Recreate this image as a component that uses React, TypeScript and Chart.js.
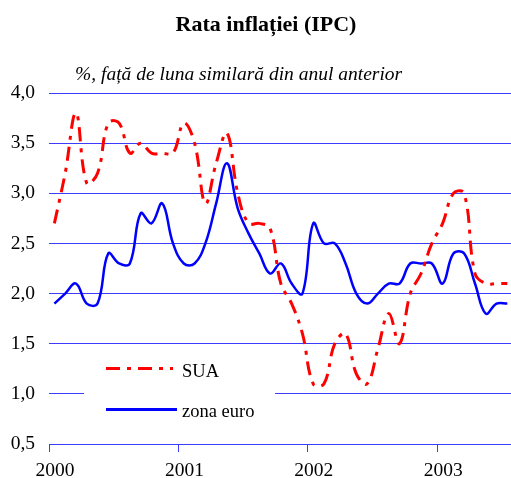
import React, { useEffect, useRef } from "react";
import { Chart, registerables } from "chart.js";

Chart.register(...registerables);

const TITLE = "Rata inflației (IPC)";
const SUBTITLE = "%, față de luna similară din anul anterior";
const START_YEAR = 2000;
const YEAR_TICKS = [2000, 2001, 2002, 2003];
const Y_TICKS = [0.5, 1.0, 1.5, 2.0, 2.5, 3.0, 3.5, 4.0];

// monthly values, Jan 2000 - Jul 2003
const SUA = [
  2.7, 3.2, 3.8, 3.1, 3.2, 3.7, 3.7, 3.4, 3.5, 3.4, 3.4, 3.4,
  3.7, 3.5, 2.9, 3.3, 3.6, 3.0, 2.7, 2.7, 2.65, 2.1, 1.9, 1.6,
  1.1, 1.1, 1.5, 1.6, 1.2, 1.1, 1.45, 1.8, 1.5, 2.0, 2.2, 2.5,
  2.7, 3.0, 3.0, 2.2, 2.1, 2.1, 2.1,
];
const ZONA_EURO = [
  1.9, 2.0, 2.1, 1.9, 1.9, 2.4, 2.3, 2.3, 2.8, 2.7, 2.9, 2.5,
  2.3, 2.3, 2.5, 2.9, 3.3, 2.85, 2.6, 2.4, 2.2, 2.3, 2.1, 2.0,
  2.7, 2.5, 2.5, 2.3, 2.0, 1.9, 2.0, 2.1, 2.1, 2.3, 2.3, 2.3,
  2.1, 2.4, 2.4, 2.1, 1.8, 1.9, 1.9,
];
const SERIES_LABELS = ["SUA", "zona euro"];

const FONT = "'Liberation Serif', 'Times New Roman', serif";
const GRID_BLUE = "#3c3cff";
const RED = "#ff0000";
const BLUE = "#0000ff";
const RED_DASH = [14, 7, 4, 7];

const toPoints = (vals: number[]) =>
  vals.map((v, i) => ({ x: START_YEAR + (i + 0.5) / 12, y: v }));

const overlay = {
  id: "overlay",
  beforeDatasetsDraw(chart: any) {
    const ctx = chart.ctx;
    ctx.save();
    ctx.fillStyle = "#ffffff";
    ctx.fillRect(84, 352, 191, 72);
    ctx.restore();
  },
  afterDraw(chart: any) {
    const ctx = chart.ctx;
    ctx.save();
    ctx.fillStyle = "#000";
    ctx.textBaseline = "alphabetic";
    ctx.textAlign = "center";
    ctx.font = `bold 22px ${FONT}`;
    ctx.fillText(TITLE, 266, 31);
    ctx.textAlign = "left";
    ctx.font = `italic 19.5px ${FONT}`;
    ctx.fillText(SUBTITLE, 75, 80);

    // legend
    const items = [
      { y: 368.5, base: 376.5, color: RED, dash: RED_DASH, x2: 173 },
      { y: 409.5, base: 416.5, color: BLUE, dash: [], x2: 177 },
    ];
    items.forEach((it, k) => {
      ctx.beginPath();
      ctx.setLineDash(it.dash);
      ctx.strokeStyle = it.color;
      ctx.lineWidth = 3;
      ctx.moveTo(106, it.y);
      ctx.lineTo(it.x2, it.y);
      ctx.stroke();
      ctx.setLineDash([]);
      ctx.font = `18.5px ${FONT}`;
      ctx.fillStyle = "#000";
      ctx.fillText(chart.data.datasets[k].label, 182, it.base);
    });
    ctx.restore();
  },
};

export default function App() {
  const ref = useRef<HTMLCanvasElement | null>(null);
  useEffect(() => {
    if (!ref.current) return;
    const chart = new Chart(ref.current, {
      type: "line",
      data: {
        datasets: [
          {
            label: SERIES_LABELS[0],
            data: toPoints(SUA),
            borderColor: RED,
            borderWidth: 3,
            borderDash: RED_DASH,
            pointRadius: 0,
            tension: 0.4,
            fill: false,
          },
          {
            label: SERIES_LABELS[1],
            data: toPoints(ZONA_EURO),
            borderColor: BLUE,
            borderWidth: 2.5,
            pointRadius: 0,
            tension: 0.4,
            fill: false,
          },
        ],
      },
      options: {
        animation: false,
        responsive: false,
        devicePixelRatio: 1,
        layout: { padding: { top: 93, left: 0, right: 0, bottom: 0 } },
        plugins: {
          legend: { display: false },
          title: { display: false },
          tooltip: { enabled: false },
        },
        scales: {
          x: {
            type: "linear",
            min: START_YEAR,
            max: 2003.57,
            afterBuildTicks: (scale: any) => {
              scale.ticks = YEAR_TICKS.map((v) => ({ value: v }));
            },
            afterFit: (scale: any) => {
              scale.height = 34;
            },
            ticks: {
              includeBounds: false,
              autoSkip: false,
              maxRotation: 0,
              labelOffset: 6,
              padding: 7,
              color: "#000",
              font: { family: FONT, size: 19.5 },
              callback: (v: any) => String(v),
            },
            grid: {
              display: true,
              drawOnChartArea: false,
              drawTicks: true,
              tickLength: 8,
              color: GRID_BLUE,
              lineWidth: 1,
            },
            border: { display: true, color: GRID_BLUE, width: 1 },
          },
          y: {
            min: 0.5,
            max: 4.0,
            afterBuildTicks: (scale: any) => {
              scale.ticks = Y_TICKS.map((v) => ({ value: v }));
            },
            afterFit: (scale: any) => {
              scale.width = 49;
            },
            ticks: {
              padding: 14,
              color: "#000",
              font: { family: FONT, size: 19.5 },
              callback: (v: any) => Number(v).toFixed(1).replace(".", ","),
            },
            grid: {
              color: GRID_BLUE,
              lineWidth: 1,
              drawTicks: false,
            },
            border: { display: false },
          },
        },
      },
      plugins: [overlay],
    } as any);
    return () => chart.destroy();
  }, []);
  return (
    <div style={{ position: "fixed", left: 0, top: 0, width: 511, height: 478, background: "#fff" }}>
      <canvas ref={ref} width={511} height={478} style={{ width: 511, height: 478, display: "block" }} />
    </div>
  );
}
